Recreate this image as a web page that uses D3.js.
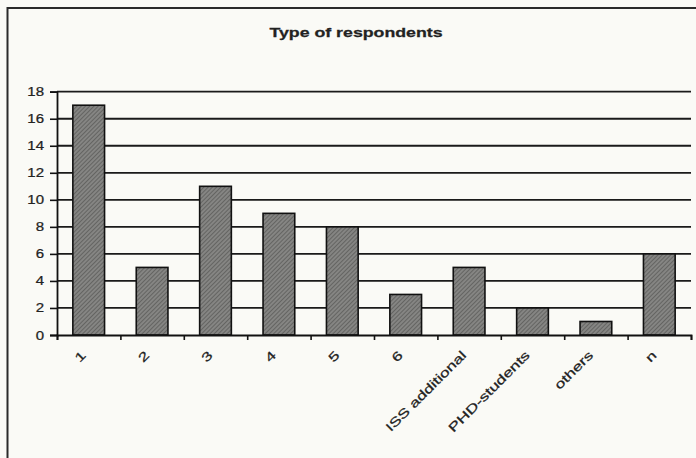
<!DOCTYPE html>
<html>
<head>
<meta charset="utf-8">
<script src="https://cdn.jsdelivr.net/npm/d3@7/dist/d3.min.js"></script>
<style>
  html, body { margin: 0; padding: 0; background: #fafaf6; }
  svg { display: block; }
  text { font-family: "Liberation Sans", Arial, sans-serif; fill: #222; stroke: #222; stroke-width: 0.25px; }
</style>
</head>
<body>
<script>
const title = "Type of respondents";
const categories = ["1", "2", "3", "4", "5", "6", "ISS additional", "PHD-students", "others", "n"];
const values = [17, 5, 11, 9, 8, 3, 5, 2, 1, 6];
const yTicks = [0, 2, 4, 6, 8, 10, 12, 14, 16, 18];

const W = 696, H = 458;
const mLeft = 57, mRight = 691, mTop = 91.7, mBottom = 335;

const svg = d3.select("body").append("svg").attr("width", W).attr("height", H);

const defs = svg.append("defs");
const pat = defs.append("pattern")
  .attr("id", "hatch").attr("patternUnits", "userSpaceOnUse")
  .attr("width", 3).attr("height", 3)
  .attr("patternTransform", "rotate(45)");
pat.append("rect").attr("width", 3).attr("height", 3).attr("fill", "#858583");
pat.append("line").attr("x1", 0).attr("y1", 0).attr("x2", 0).attr("y2", 3)
  .attr("stroke", "#555553").attr("stroke-width", 1.4);

svg.append("rect").attr("width", W).attr("height", H).attr("fill", "#fafaf6");
// outer chart border (extends beyond the photographed area)
svg.append("rect").attr("x", 7.5).attr("y", 8).attr("width", 720).attr("height", 480)
  .attr("fill", "none").attr("stroke", "#2a2a2a").attr("stroke-width", 2);

// title
svg.append("text")
  .attr("transform", `translate(356,37) scale(1.42,1)`)
  .attr("text-anchor", "middle").attr("font-size", 12.5).attr("font-weight", "bold")
  .text(title);

const xCat = d3.scaleBand().domain(categories).range([mLeft, mRight]).padding(0);
const xB = d3.scaleLinear().domain([0, categories.length]).range([mLeft, mRight]);
const y = d3.scaleLinear().domain([0, 18]).range([mBottom, mTop]);

// gridlines
svg.append("g").selectAll("line").data(yTicks.filter(t => t > 0)).join("line")
  .attr("x1", mLeft).attr("x2", mRight)
  .attr("y1", d => y(d)).attr("y2", d => y(d))
  .attr("stroke", "#1a1a1a").attr("stroke-width", 1.8);

// bars
const bw = xCat.bandwidth() * 0.5;
svg.append("g").selectAll("rect").data(values).join("rect")
  .attr("x", (d, i) => xCat(categories[i]) + (xCat.bandwidth() - bw) / 2)
  .attr("width", bw)
  .attr("y", d => y(d))
  .attr("height", d => y(0) - y(d))
  .attr("fill", "url(#hatch)")
  .attr("stroke", "#111").attr("stroke-width", 1.6);

// y axis
const yAxis = svg.append("g").attr("transform", `translate(${mLeft},0)`)
  .call(d3.axisLeft(y).tickValues(yTicks).tickSize(7).tickFormat(""));
yAxis.select(".domain").attr("stroke", "#111").attr("stroke-width", 1.8);
yAxis.selectAll(".tick line").attr("stroke", "#111").attr("stroke-width", 1.6);
svg.append("g").selectAll("text").data(yTicks).join("text")
  .attr("transform", d => `translate(${mLeft - 13},${y(d) + 4.5}) scale(1.2,1)`)
  .attr("text-anchor", "end").attr("font-size", 12.5)
  .text(d => d);

// x axis
const xAxis = svg.append("g").attr("transform", `translate(0,${mBottom})`)
  .call(d3.axisBottom(xB).ticks(categories.length).tickSize(5).tickFormat(""));
xAxis.select(".domain").attr("stroke", "#111").attr("stroke-width", 1.8);
xAxis.selectAll(".tick line").attr("stroke", "#111").attr("stroke-width", 1.6);

svg.append("g").selectAll("text").data(categories).join("text")
  .attr("transform", d => `translate(${xCat(d) + xCat.bandwidth() / 2 - 2},${356}) rotate(-45) scale(1.4,1)`)
  .attr("text-anchor", "end").attr("font-size", 12.5)
  .text(d => d);
</script>
</body>
</html>
